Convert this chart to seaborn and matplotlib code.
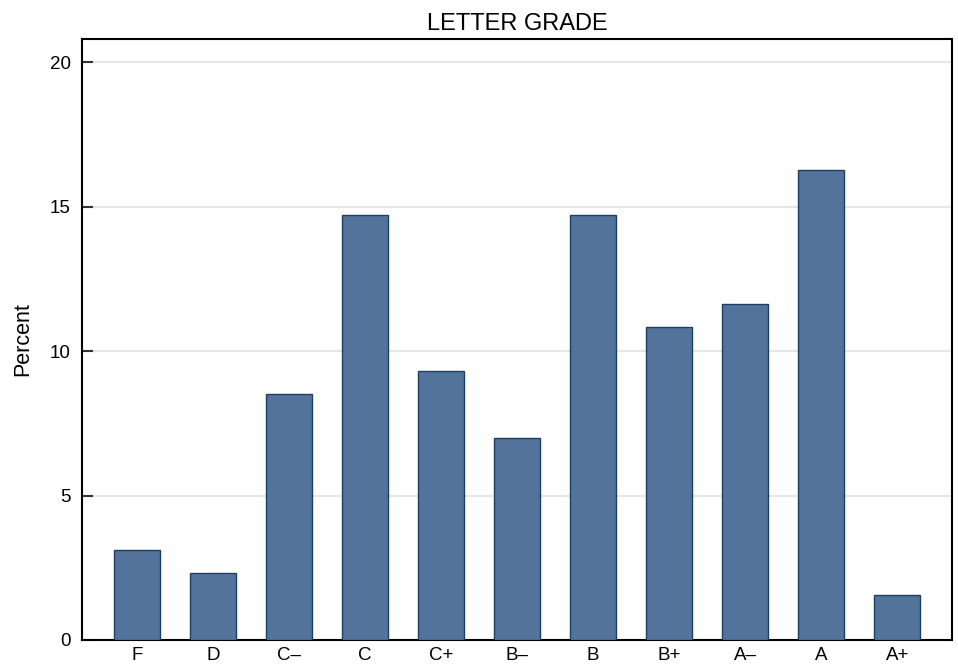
import matplotlib
matplotlib.use("Agg")
import matplotlib.pyplot as plt
import seaborn as sns
import pandas as pd

grades = ["F", "D", "C–", "C", "C+", "B–", "B", "B+", "A–", "A", "A+"]
percent = [3.10, 2.33, 8.53, 14.73, 9.30, 6.98, 14.73, 10.85, 11.63, 16.28, 1.55]
yticks = [0, 5, 10, 15, 20]

sns.set_theme(style="white")
plt.rcParams['font.family'] = ['Liberation Sans', 'DejaVu Sans']
plt.rcParams['text.color'] = 'black'
plt.rcParams['axes.labelcolor'] = 'black'
plt.rcParams['xtick.color'] = 'black'
plt.rcParams['ytick.color'] = 'black'

df = pd.DataFrame({"grade": grades, "percent": percent})

fig = plt.figure(figsize=(9.58, 6.71), dpi=100)
ax = fig.add_axes([82/958, 31/671, (952-82)/958, (640-38.5)/671])

sns.barplot(data=df, x="grade", y="percent", order=grades, color="#53739a",
            saturation=1, width=0.6, edgecolor="#1f3f62", linewidth=1.0, ax=ax, zorder=3)

ax.set_xlim(-0.72, 10.72)
ax.set_ylim(0, 20.83)
ax.set_yticks(yticks)
ax.set_yticklabels([str(t) for t in yticks])
ax.yaxis.grid(True, color="#e6e6e6", linewidth=1.5, zorder=0)
ax.set_axisbelow(True)
ax.tick_params(axis="y", direction="in", length=8, width=1.5, color="#333333",
               labelcolor="black", labelsize=13.5, pad=8, left=True)
ax.tick_params(axis="x", length=0, labelsize=13.5, pad=5, labelcolor="black")
ax.set_xlabel("")
ax.set_ylabel("Percent", fontsize=15.5, labelpad=12, color="black")
ax.set_title("LETTER GRADE", fontsize=17, pad=6, color="black")
for s in ax.spines.values():
    s.set_visible(True)
    s.set_color("black")
    s.set_linewidth(1.5)

fig.savefig("out.png", dpi=100)
